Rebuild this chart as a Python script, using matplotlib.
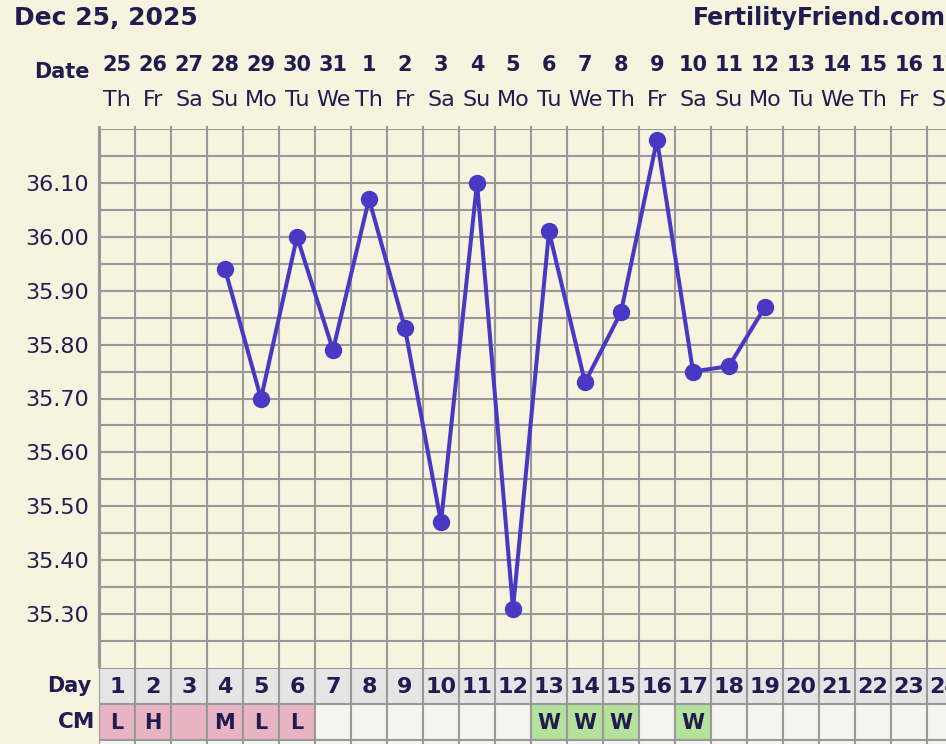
import matplotlib
matplotlib.use("Agg")
import matplotlib.pyplot as plt
from matplotlib.patches import Rectangle

# =========================
# data
# =========================
date_nums = ["25", "26", "27", "28", "29", "30", "31", "1", "2", "3", "4", "5",
             "6", "7", "8", "9", "10", "11", "12", "13", "14", "15", "16", "17"]
weekdays = ["Th", "Fr", "Sa", "Su", "Mo", "Tu", "We"] * 3 + ["Th", "Fr", "Sa"]
cycle_days = list(range(1, 25))

temp_days = [4, 5, 6, 7, 8, 9, 10, 11, 12, 13, 14, 15, 16, 17, 18, 19]
temps = [35.94, 35.70, 36.00, 35.79, 36.07, 35.83, 35.47, 36.10,
         35.31, 36.01, 35.73, 35.86, 36.18, 35.75, 35.76, 35.87]

cm_labels = ["L", "H", "", "M", "L", "L", "", "", "", "", "", "",
             "W", "W", "W", "", "W", "", "", "", "", "", "", ""]
cm_kind = ["p", "p", "p", "p", "p", "p", "", "", "", "", "", "",
           "g", "g", "g", "", "g", "", "", "", "", "", "", ""]

ytick_vals = [35.30, 35.40, 35.50, 35.60, 35.70, 35.80, 35.90, 36.00, 36.10]

# =========================
# style
# =========================
W, H = 946, 744
BG = "#f6f3df"
GRID = "#999999"
TXT = "#201c50"
LINE = "#4838c4"
cell_colors = {"p": "#e8b4c4", "g": "#b4e29c", "": "#f5f5f0"}


def px(x, y):
    return x / W, 1 - y / H


fig = plt.figure(figsize=(W / 100, H / 100), dpi=100, facecolor=BG)

ncols = 847 / 36

# temperature grid
ax = fig.add_axes([99 / W, (H - 668) / H, 847 / W, (668 - 129) / H])
ax.set_facecolor(BG)
ax.set_xlim(0, ncols)
ax.set_ylim(35.20, 36.20)
for s in ax.spines.values():
    s.set_visible(False)

for k in range(1, 21):
    ax.axhline(35.20 + 0.05 * k, color=GRID, lw=1.5, zorder=1)
ax.vlines(range(0, 24), 35.20, 36.206, color=GRID, lw=1.5, zorder=1, clip_on=False)
ax.vlines(0, 35.20, 36.206, color=GRID, lw=2.2, zorder=1, clip_on=False)

xs = [d - 0.5 for d in temp_days]
ax.plot(xs, temps, color=LINE, lw=2.9, marker="o", markersize=12.5,
        markeredgewidth=0, zorder=3, solid_joinstyle="round")

ax.set_xticks([])
ax.set_yticks(ytick_vals)
ax.set_yticklabels([f"{v:.2f}" for v in ytick_vals], fontsize=16, color=TXT)
ax.tick_params(axis="y", length=0, pad=7)

# day / CM rows
bx = fig.add_axes([99 / W, 0, 847 / W, 76 / H])
bx.set_xlim(0, ncols)
bx.set_ylim(76, 0)
bx.axis("off")
for i in range(24):
    bx.add_patch(Rectangle((i, 0), 1, 36, facecolor="#e5e5e5", edgecolor=GRID, lw=1.5))
    bx.add_patch(Rectangle((i, 36), 1, 36, facecolor=cell_colors[cm_kind[i]],
                           edgecolor=GRID, lw=1.5))
    bx.add_patch(Rectangle((i, 72), 1, 36, facecolor="#f5f5f0", edgecolor=GRID, lw=1.5,
                           clip_on=True))
    bx.text(i + 0.5, 19, str(cycle_days[i]), ha="center", va="center",
            fontsize=16, fontweight="bold", color=TXT)
    if cm_labels[i]:
        bx.text(i + 0.5, 55, cm_labels[i], ha="center", va="center",
                fontsize=15, fontweight="bold", color=TXT)

# header texts
for i in range(24):
    cx = 99 + 36 * i + 18
    fig.text(*px(cx, 65), date_nums[i], ha="center", va="center",
             fontsize=15, fontweight="bold", color=TXT)
    fig.text(*px(cx, 100), weekdays[i], ha="center", va="center",
             fontsize=16, color=TXT)

fig.text(*px(90, 72), "Date", ha="right", va="center", fontsize=15,
         fontweight="bold", color=TXT)
fig.text(*px(91, 686), "Day", ha="right", va="center", fontsize=15,
         fontweight="bold", color=TXT)
fig.text(*px(95, 722), "CM", ha="right", va="center", fontsize=15.5,
         fontweight="bold", color=TXT)

fig.text(*px(14, 18), "Dec 25, 2025", ha="left", va="center", fontsize=18,
         fontweight="bold", color=TXT)
fig.text(*px(946, 18), "FertilityFriend.com", ha="right", va="center", fontsize=17,
         fontweight="bold", color=TXT)

fig.savefig("out.png", dpi=100, facecolor=BG)
